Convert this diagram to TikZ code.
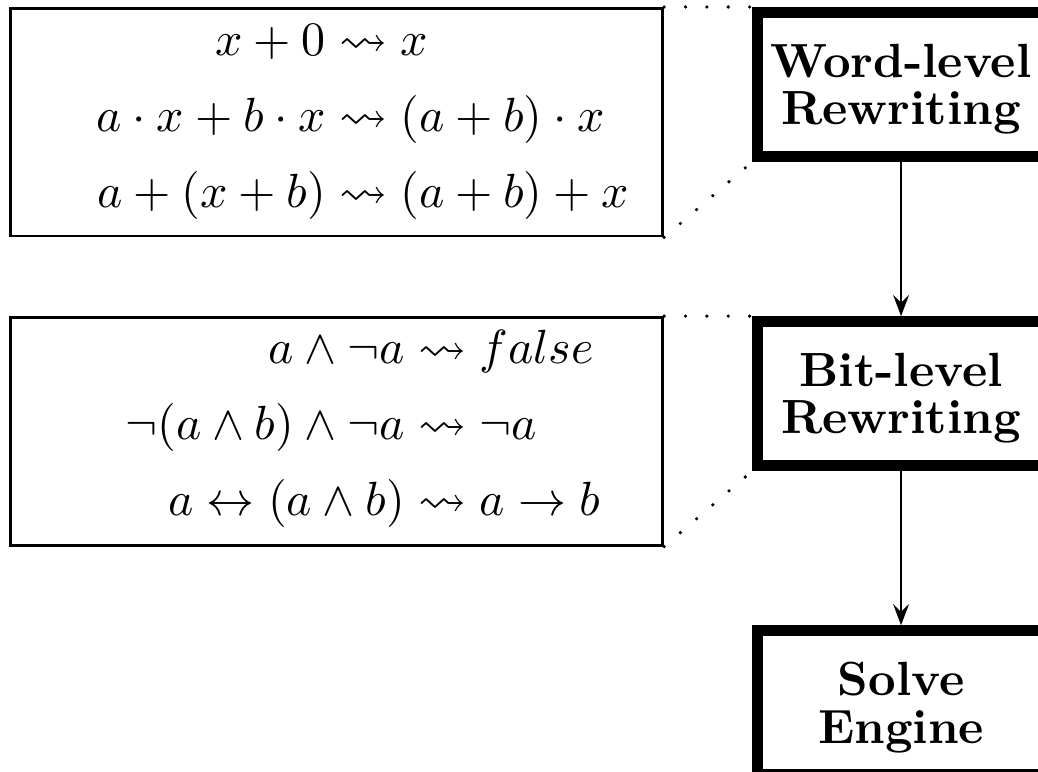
\documentclass[tikz,border=0pt]{standalone}
\usepackage{amsmath}
\usepackage{amssymb}
\usepackage{tikz}
\usetikzlibrary{positioning,arrows.meta}
\setlength{\jot}{3.8pt}

\tikzset{
  stage/.style={draw, line width=2.3pt, minimum width=59.8pt, minimum height=30pt,
    inner sep=0pt, text depth=0pt, align=center, font=\fontsize{10}{9.8}\selectfont\bfseries},
  rules/.style={draw, line width=0.6pt, minimum width=135.8pt, minimum height=47.4pt, inner sep=0pt},
  zoomline/.style={line width=0.75pt, line cap=round, dash pattern=on 0pt off 4.45pt},
  flow/.style={line width=0.5pt, -{Stealth[length=4.4pt,width=3.3pt,inset=1.6pt]}}
}

\begin{document}
\begin{tikzpicture}[x=0.75pt,y=0.75pt,yscale=-1,xscale=1,node distance=32.1pt]
%set diagram size, right and bottom stages run off the page
\useasboundingbox (0,0) rectangle (288.33,214.44);
\clip (0,0) rectangle (288.33,214.44);

% Stage Nodes
\node [stage, anchor=north west] (wordrw) at (208.89,1.94) {Word-level\\Rewriting};
\node [stage, below=of wordrw] (bitrw) {Bit-level\\Rewriting};
\node [stage, below=of bitrw] (solve) {Solve\\Engine};

% Rule Boxes
\node [rules, anchor=north east] (wordrules) at ([xshift=-18.3pt]wordrw.north west) {};
\node [rules, anchor=north east] (bitrules) at ([xshift=-18.3pt]bitrw.north west) {};

% Text Node
\node (wordeqs) at ([xshift=5.4pt,yshift=-0.5pt]wordrules.center) {$\begin{aligned}
  x+0 &\leadsto x\\
  a\cdot x+b\cdot x &\leadsto (a+b)\cdot x\\
  a+(x+b) &\leadsto (a+b)+x
\end{aligned}$};
% Text Node
\node (biteqs) at ([xshift=5.4pt,yshift=-0.7pt]bitrules.center) {$\begin{aligned}
  a\wedge\neg a &\leadsto false\\
  \neg(a\wedge b)\wedge\neg a &\leadsto \neg a\\
  a\leftrightarrow(a\wedge b) &\leadsto a\rightarrow b
\end{aligned}$};

%Dotted Lines
\draw [zoomline] (wordrules.north east) -- (wordrw.north west);
\draw [zoomline] (wordrules.south east) -- (wordrw.south west);
\draw [zoomline] (bitrules.north east) -- (bitrw.north west);
\draw [zoomline] (bitrules.south east) -- (bitrw.south west);

%Arrows
\draw [flow] (wordrw) -- (bitrw);
\draw [flow] (bitrw) -- (solve);

\end{tikzpicture}
\end{document}
